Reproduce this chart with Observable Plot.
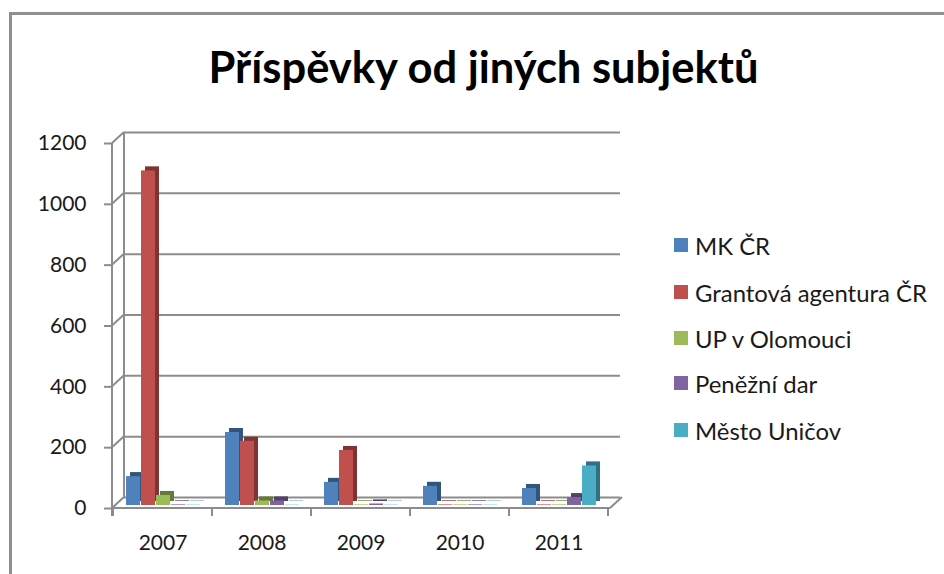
<!DOCTYPE html>
<html>
<head>
<meta charset="utf-8">
<script src="https://cdn.jsdelivr.net/npm/d3@7"></script>
<script src="https://cdn.jsdelivr.net/npm/@observablehq/plot@0.6"></script>
<style>
  html, body { margin: 0; padding: 0; background: #fff; }
  #chart { position: relative; width: 944px; height: 574px; overflow: hidden; font-family: Lato, "Open Sans", sans-serif; color: #1a1a1a; }
  #chart svg { position: absolute; left: 0; top: 0; background: transparent; overflow: visible; }
  #border { position: absolute; left: 9px; top: 12px; width: 960px; height: 600px; border-top: 3px solid #8f8f8f; border-left: 3px solid #8f8f8f; box-sizing: border-box; }
  #title { position: absolute; left: 0; width: 967px; top: 40px; text-align: center; font-weight: 700; font-size: 36px; white-space: nowrap; color: #000; }
  #title span { display: inline-block; }
  .leg { position: absolute; left: 674px; height: 24px; display: flex; align-items: center; font-size: 21px; white-space: nowrap; }
  .leg i { display: inline-block; width: 14px; height: 14px; margin-right: 7px; }
</style>
</head>
<body>
<div id="chart">
  <div id="border"></div>
  <div id="title"><span>Příspěvky od jiných subjektů</span></div>
</div>
<script>
// ---- data ----
const title = "Příspěvky od jiných subjektů";
const years = ["2007", "2008", "2009", "2010", "2011"];
const seriesNames = ["MK ČR", "Grantová agentura ČR", "UP v Olomouci", "Peněžní dar", "Město Uničov"];
const mkCR =        [95, 240, 76, 63, 56];
const grantova =    [1100, 211, 181, 2, 2];
const upOlomouc =   [33, 15, 2, 2, 2];
const penezniDar =  [2, 15, 5, 2, 26];
const mestoUnicov = [1, 1, 1, 1, 130];
const yTicks = [0, 200, 400, 600, 800, 1000, 1200];
const colors = ["#4F81BD", "#C0504D", "#9BBB59", "#8064A2", "#4BACC6"];

const seriesValues = [mkCR, grantova, upOlomouc, penezniDar, mestoUnicov];
const data = seriesNames.flatMap((s, i) => years.map((yr, j) => ({year: yr, series: s, value: seriesValues[i][j]})));

// ---- layout ----
const W = 944, H = 574;
const M = {left: 112, right: 336, top: 143, bottom: 66};
const GRID = "#8c8c8c";
const DX = 12, DY = -11;       // wall depth
const BX = 4, BY = -4;         // bar depth

const chart = document.getElementById("chart");

// Background plot: axes, walls, gridlines, floor
function walls(index, {x, y}, values, dims) {
  const g = d3.create("svg:g").attr("stroke", GRID).attr("stroke-width", 2).attr("fill", "none");
  const x0 = dims.marginLeft, x1 = dims.width - dims.marginRight;
  const y0 = y(0), yTop = y(yTicks[yTicks.length - 1]);
  g.append("line").attr("x1", x0).attr("x2", x0).attr("y1", yTop).attr("y2", y0 + 8);
  for (const t of yTicks) {
    g.append("line").attr("x1", x0).attr("y1", y(t)).attr("x2", x0 + DX).attr("y2", y(t) + DY);
  }
  g.append("line").attr("x1", x0 + DX).attr("x2", x0 + DX).attr("y1", yTop + DY).attr("y2", y0 + DY);
  g.append("line").attr("x1", x0).attr("x2", x1 + 2).attr("y1", y0).attr("y2", y0);
  g.append("line").attr("x1", x1 + 2).attr("y1", y0).attr("x2", x1 + 2 + DX).attr("y2", y0 + DY);
  const bw = x.bandwidth ? x.bandwidth() : 0;
  const bounds = years.map(v => x(v)).concat([x(years[years.length - 1]) + bw]);
  for (const b of bounds) {
    g.append("line").attr("x1", b).attr("x2", b).attr("y1", y0).attr("y2", y0 + 8);
  }
  return g.node();
}

const back = Plot.plot({
  width: W, height: H,
  marginLeft: M.left, marginRight: M.right, marginTop: M.top, marginBottom: M.bottom,
  style: {background: "transparent", fontFamily: "Lato, 'Open Sans', sans-serif", fontSize: "21px", color: "#1a1a1a", overflow: "visible"},
  x: {type: "band", domain: years, padding: 0, axis: null},
  y: {domain: [0, 1200], axis: null},
  marks: [
    Plot.ruleY(yTicks, {dx: DX, dy: DY, stroke: GRID, strokeWidth: 2, strokeOpacity: 1}),
    walls,
    Plot.axisY(yTicks, {tickSize: 8, tickPadding: 18, tickFormat: d => String(d), stroke: GRID, strokeWidth: 2, strokeOpacity: 1, fill: "#1a1a1a", fontSize: 21, label: null}),
    Plot.axisX({tickSize: 0, tickPadding: 27, fill: "#1a1a1a", fontSize: 21, label: null})
  ]
});
chart.appendChild(back);

// Foreground plot: 3D-looking clustered bars
const front = Plot.plot({
  width: W, height: H,
  marginLeft: M.left, marginRight: M.right, marginTop: M.top, marginBottom: M.bottom,
  style: {background: "transparent", overflow: "visible"},
  fx: {domain: years, padding: 0, axis: null},
  x: {domain: seriesNames, paddingInner: 0, paddingOuter: 0.6, align: 0.55, axis: null},
  y: {domain: [0, 1200], axis: null},
  color: {domain: seriesNames, range: colors},
  marks: [
    Plot.barY(data, {fx: "year", x: "series", y: "value", fill: "series", dx: BX, dy: -3 + BY, insetRight: 1}),
    Plot.barY(data, {fx: "year", x: "series", y: "value", fill: "#000", fillOpacity: 0.35, dx: BX, dy: -3 + BY, insetRight: 1}),
    Plot.barY(data, {fx: "year", x: "series", y: "value", fill: "series", dy: -3, insetRight: 1})
  ]
});
chart.appendChild(front);

// Legend
const rowY = [245, 292, 338, 383, 430];
seriesNames.forEach((s, i) => {
  const d = document.createElement("div");
  d.className = "leg";
  d.style.top = (rowY[i] - 12) + "px";
  d.innerHTML = `<i style="background:${colors[i]}"></i><span></span>`;
  d.querySelector("span").textContent = s;
  chart.appendChild(d);
});

// Fit title width to reference (~550px)
const tspan = document.querySelector("#title span");
const tw = tspan.getBoundingClientRect().width;
document.getElementById("title").style.fontSize = (36 * 550 / tw).toFixed(2) + "px";
// Fit legend text width (Grantová agentura ČR ~232px)
const legSpans = document.querySelectorAll(".leg span");
const lw = legSpans[1].getBoundingClientRect().width;
const lfs = Math.min(24, 21 * 232 / lw);
legSpans.forEach(sp => sp.style.fontSize = lfs.toFixed(2) + "px");
</script>
</body>
</html>
